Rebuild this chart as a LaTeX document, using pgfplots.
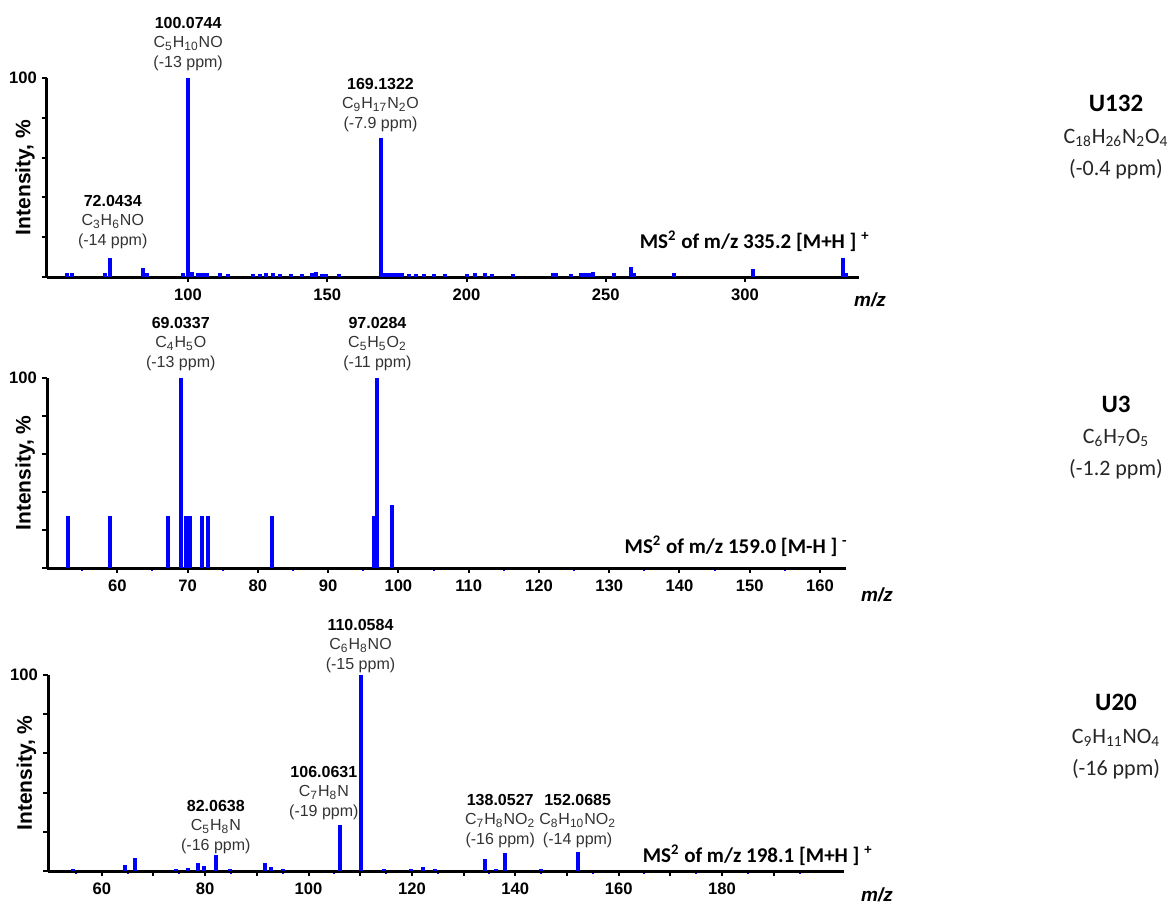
\documentclass[border=0pt]{standalone}
\usepackage{pgfplots}
\pgfplotsset{compat=1.18}
\usepackage{fontspec}
\setmainfont{Liberation Sans}
\newfontfamily\calibri{Carlito}

\pgfplotsset{
  spectrum/.style={
    scale only axis, anchor=south west, clip=false,
    ymin=0, ymax=100,
    ytick={0,20,40,60,80,100}, yticklabels={,,,,,100},
    axis x line*=bottom, axis y line*=left,
    xtick pos=bottom, ytick pos=left,
    axis line style={line width=1.5pt, -},
    tick align=outside, major tick length=2.5pt, minor tick length=1.5pt,
    tick style={black, line width=1pt},
    minor tick style={blue, line width=1pt},
    /pgf/number format/assume math mode=true,
    ticklabel style={font=\bfseries\fontsize{8.3}{10}\selectfont, text=black},
    yticklabel style={xshift=1pt},
    ylabel={Intensity, \%},
    ylabel style={at={(axis description cs:-0.0272,0.5)}, anchor=center,
      font=\bfseries\fontsize{10.5}{12}\selectfont},
    xlabel={\textbf{\textit{m/z}}},
    xlabel style={at={(axis description cs:1,0)}, anchor=center,
      font=\fontsize{9.5}{11}\selectfont},
  },
}
\tikzset{
  ann/.style={anchor=south, align=center, inner sep=0pt,
    font=\fontsize{8}{9.75}\selectfont, text=black!80},
  ms/.style={anchor=base east, inner sep=0pt,
    font=\calibri\bfseries\fontsize{10.5}{12}\selectfont},
  cmpd/.style={anchor=base, inner sep=0pt, text=black!85,
    font=\calibri\fontsize{11}{12}\selectfont},
  cname/.style={anchor=base, inner sep=0pt, text=black,
    font=\calibri\bfseries\fontsize{12.5}{14}\selectfont},
}

\begin{document}
\begin{tikzpicture}
\useasboundingbox (0,0) rectangle (585pt,-452pt);

% U132, MS2 of 335.2 [M+H]+
\begin{axis}[spectrum, at={(23.5pt,-138.5pt)}, width=406pt, height=99.5pt,
  xmin=49.4, xmax=340.9, xtick={100,150,200,250,300},
  xlabel style={xshift=5.5pt, yshift=-11.5pt}]
\addplot[ycomb, blue, line width=2pt, no markers] coordinates {
  (56.7,2) (58.5,2) (70.4,2) (72.0434,9.5) (84.0,4.5) (85.2,2)
  (98.2,2) (100.0744,100) (101.3,2.5) (103.6,2) (104.8,2) (105.8,2) (106.8,2)
  (111.4,2) (114.3,1.5) (123.3,1.5) (125.7,1.5) (128.1,2) (130.5,2)
  (132.9,1.5) (137.0,1.5) (141.1,1.5) (144.7,2) (146.0,2.5) (148.3,1.5)
  (149.6,1.5) (154.3,1.5) (169.1322,70) (170.2,2) (171.5,2) (172.8,2)
  (174.0,2) (175.4,2) (176.8,2) (179.3,1.5) (181.7,1.5) (184.6,1.5)
  (188.2,1.5) (192.4,1.5) (200.0,1.5) (203.1,2) (206.7,2) (209.0,1.5)
  (216.8,1.5) (231.0,2) (232.0,2) (237.5,1.5) (241.0,2) (242.5,2)
  (244.0,2) (245.4,2.5) (253.0,2) (259.0,5) (260.0,2) (274.5,2)
  (303.0,4) (335.2,9.5) (336.4,2)
};
\node[ann] at (axis cs:100.0744,103.5) {\textcolor{black}{\textbf{100.0744}}\\C\textsubscript{5}H\textsubscript{10}NO\\(-13 ppm)};
\node[ann] at (axis cs:169.1322,72.9) {\textcolor{black}{\textbf{169.1322}}\\C\textsubscript{9}H\textsubscript{17}N\textsubscript{2}O\\(-7.9 ppm)};
\node[ann] at (axis cs:73,14.1) {\textcolor{black}{\textbf{72.0434}}\\C\textsubscript{3}H\textsubscript{6}NO\\(-14 ppm)};
\end{axis}

% U3, MS2 of 159.0 [M-H]-
\begin{axis}[spectrum, at={(23.5pt,-284pt)}, width=399.5pt, height=95pt,
  xmin=50, xmax=163.7, xtick={60,70,...,160}, minor xtick={55,65,...,155},
  xlabel style={xshift=15.5pt, yshift=-13.5pt}]
\addplot[ycomb, blue, line width=2pt, no markers] coordinates {
  (53.0,27.5) (59.0,27.5) (67.2,27.5) (69.0337,100) (69.8,27.5)
  (70.1,27.5) (70.4,27.5) (72.1,27.5) (72.9,27.5) (82.0,27.5)
  (96.6,27.5) (97.0284,100) (99.1,33)
};
\node[ann] at (axis cs:69.0337,103.7) {\textcolor{black}{\textbf{69.0337}}\\C\textsubscript{4}H\textsubscript{5}O\\(-13 ppm)};
\node[ann] at (axis cs:97.0284,103.7) {\textcolor{black}{\textbf{97.0284}}\\C\textsubscript{5}H\textsubscript{5}O\textsubscript{2}\\(-11 ppm)};
\end{axis}

% U20, MS2 of 198.1 [M+H]+
\begin{axis}[spectrum, at={(24pt,-435.5pt)}, width=398pt, height=98pt,
  xmin=49.6, xmax=203.6, xtick={60,80,...,180},
  extra x ticks={70,90,110,130,150,170,190}, extra x tick labels={},
  minor xtick={55,65,...,195},
  xlabel style={xshift=16.5pt, yshift=-12pt}]
\addplot[ycomb, blue, line width=2pt, no markers] coordinates {
  (54.5,1) (64.4,3) (66.5,6.5) (74.4,0.8) (76.7,1.5) (78.6,4.2) (79.8,2.5)
  (82.0638,8.2) (84.8,0.8) (91.5,3.9) (92.8,1.9) (95.0,0.8)
  (106.0631,23.5) (110.0584,100) (114.7,0.8) (119.9,0.8) (122.1,2)
  (124.4,1) (134.1,6) (136.3,0.8) (138.0527,9) (145.0,0.8) (152.0685,9.5)
};
\node[ann] at (axis cs:110.0584,101) {\textcolor{black}{\textbf{110.0584}}\\C\textsubscript{6}H\textsubscript{8}NO\\(-15 ppm)};
\node[ann, xshift=-8pt] at (axis cs:106.0631,26) {\textcolor{black}{\textbf{106.0631}}\\C\textsubscript{7}H\textsubscript{8}N\\(-19 ppm)};
\node[ann] at (axis cs:82.0638,8.6) {\textcolor{black}{\textbf{82.0638}}\\C\textsubscript{5}H\textsubscript{8}N\\(-16 ppm)};
\node[ann, xshift=-2.5pt] at (axis cs:138.0527,11.7) {\textcolor{black}{\textbf{138.0527}}\\C\textsubscript{7}H\textsubscript{8}NO\textsubscript{2}\\(-16 ppm)};
\node[ann] at (axis cs:152.0685,11.7) {\textcolor{black}{\textbf{152.0685}}\\C\textsubscript{8}H\textsubscript{10}NO\textsubscript{2}\\(-14 ppm)};
\end{axis}

% precursor captions
\node[ms] at (435pt,-124pt) {MS\textsuperscript{2} of m/z 335.2 [M+H ] \textsuperscript{+}};
\node[ms] at (424pt,-276.5pt) {MS\textsuperscript{2} of m/z 159.0 [M-H ] \textsuperscript{-}};
\node[ms] at (436.5pt,-431pt) {MS\textsuperscript{2} of m/z 198.1 [M+H ] \textsuperscript{+}};

% compound labels
\node[cname] at (558pt,-56pt) {U132};
\node[cmpd] at (558pt,-71.5pt) {C\textsubscript{18}H\textsubscript{26}N\textsubscript{2}O\textsubscript{4}};
\node[cmpd] at (558pt,-87.5pt) {(-0.4 ppm)};
\node[cname] at (558pt,-206pt) {U3};
\node[cmpd] at (558pt,-221.5pt) {C\textsubscript{6}H\textsubscript{7}O\textsubscript{5}};
\node[cmpd] at (558pt,-237.5pt) {(-1.2 ppm)};
\node[cname] at (558pt,-355pt) {U20};
\node[cmpd] at (558pt,-371.5pt) {C\textsubscript{9}H\textsubscript{11}NO\textsubscript{4}};
\node[cmpd] at (558pt,-387.5pt) {(-16 ppm)};
\end{tikzpicture}
\end{document}
